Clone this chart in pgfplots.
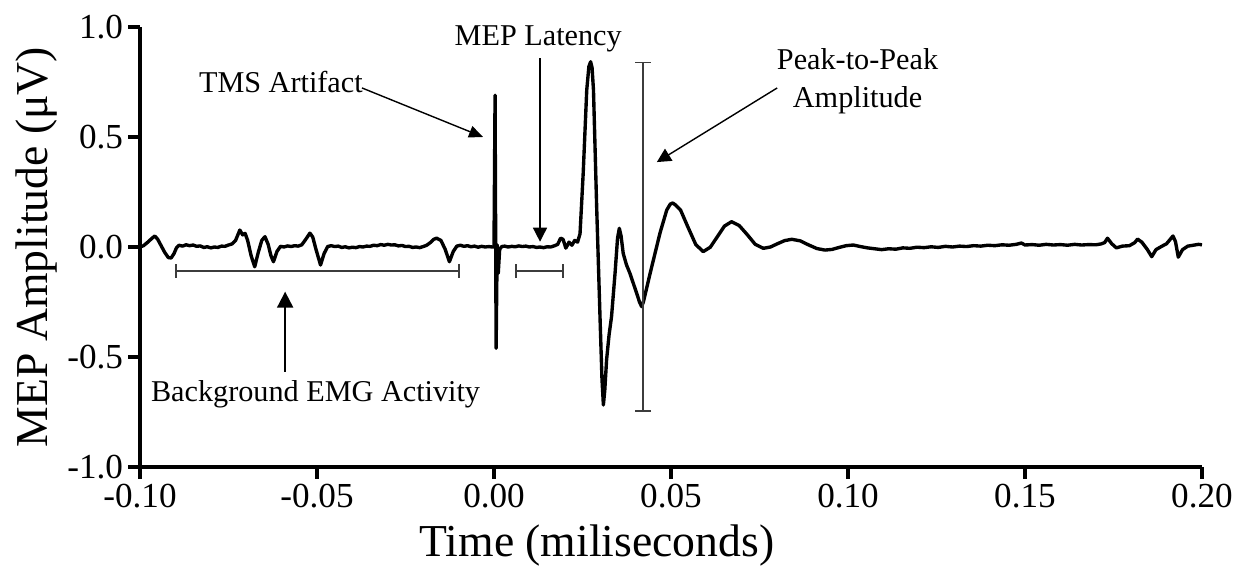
\documentclass[border=0pt]{standalone}
\usepackage{fontspec}
\setmainfont{Liberation Serif}
\usepackage{pgfplots}
\pgfplotsset{compat=1.18}
\usetikzlibrary{arrows.meta}

\newcommand{\annot}{\fontsize{21.5}{26}\selectfont}
\definecolor{barGray}{RGB}{60,60,60}

\begin{document}
\begin{tikzpicture}
\begin{axis}[
  scale only axis, width=265.5mm, height=110mm,
  xmin=-0.1, xmax=0.2, ymin=-1, ymax=1,
  axis lines*=left,
  axis line style={line width=2.5pt},
  xtick={-0.1,-0.05,0,0.05,0.1,0.15,0.2},
  xticklabels={-0.10,-0.05,0.00,0.05,0.10,0.15,0.20},
  ytick={-1,-0.5,0,0.5,1},
  yticklabels={-1.0,-0.5,0.0,0.5,1.0},
  tick align=outside, major tick length=3mm,
  tick style={line width=2.5pt,black},
  ticklabel style={font=\fontsize{25}{30}\selectfont},
  xlabel={Time (miliseconds)}, ylabel={MEP Amplitude (μV)},
  label style={font=\fontsize{32.5}{38}\selectfont},
  xlabel style={at={(axis description cs:0.4303,-0.1795)}, anchor=center},
  clip=false,
]
% page frame, so the picture keeps the reference proportions
\path (axis cs:-0.13955,1.12273) rectangle (axis cs:0.21102,-1.49091);

\addplot[black, line width=2.4pt, line join=round] coordinates {
(-0.1000,0.000) (-0.0990,0.006) (-0.0978,0.022) (-0.0966,0.040) (-0.0958,0.050) (-0.0950,0.035) (-0.0940,0.005) (-0.0930,-0.025) (-0.0920,-0.048) (-0.0912,-0.050) (-0.0904,-0.030) (-0.0897,-0.004) (-0.0890,0.008) (-0.0880,0.004)
(-0.0870,0.010) (-0.0860,0.006) (-0.0850,0.009) (-0.0840,0.003) (-0.0830,0.005) (-0.0820,-0.002) (-0.0810,0.001) (-0.0800,-0.004) (-0.0790,0.000) (-0.0780,-0.002) (-0.0770,0.004) (-0.0760,0.003) (-0.0750,0.009) (-0.0740,0.014) (-0.0730,0.030) (-0.0718,0.077) (-0.0710,0.055) (-0.0703,0.062) (-0.0696,0.030) (-0.0686,-0.040) (-0.0676,-0.090) (-0.0666,-0.025) (-0.0656,0.030) (-0.0647,0.047) (-0.0638,0.012) (-0.0630,-0.040) (-0.0623,-0.067) (-0.0613,-0.020) (-0.0603,0.003) (-0.0593,0.000) (-0.0583,0.005) (-0.0573,0.002) (-0.0563,0.006) (-0.0553,0.004) (-0.0543,0.010) (-0.0533,0.032) (-0.0520,0.063) (-0.0512,0.045) (-0.0503,-0.010) (-0.0490,-0.082) (-0.0480,-0.030) (-0.0470,0.002) (-0.0460,0.006)
(-0.0450,0.002) (-0.0440,0.004) (-0.0430,-0.002) (-0.0420,0.001) (-0.0410,-0.004) (-0.0400,-0.001) (-0.0390,-0.003) (-0.0380,0.002) (-0.0370,0.000) (-0.0360,0.004) (-0.0350,0.003) (-0.0340,0.008) (-0.0330,0.006) (-0.0320,0.011) (-0.0310,0.008) (-0.0300,0.012) (-0.0290,0.009) (-0.0280,0.010) (-0.0270,0.005) (-0.0260,0.007) (-0.0250,0.002) (-0.0240,0.003) (-0.0230,-0.002) (-0.0220,0.000) (-0.0210,-0.003) (-0.0200,0.002) (-0.0190,0.008) (-0.0180,0.020) (-0.0170,0.035) (-0.0162,0.040) (-0.0150,0.030) (-0.0138,-0.010) (-0.0126,-0.067) (-0.0115,-0.020) (-0.0105,0.004) (-0.0095,0.008) (-0.0085,0.003) (-0.0075,0.006) (-0.0065,0.001) (-0.0055,0.004) (-0.0045,-0.001) (-0.0035,0.003) (-0.0025,0.000) (-0.0015,0.002) (-0.0005,0.000)
(0.0000,0.000) (0.0003,0.690) (0.0006,-0.460) (0.0009,0.010) (0.0012,-0.120) (0.0016,-0.010) (0.0022,0.002)
(0.0030,0.004) (0.0040,0.000) (0.0050,0.003) (0.0060,0.001) (0.0070,0.005) (0.0080,0.002) (0.0090,0.004) (0.0100,0.000) (0.0110,0.002) (0.0120,-0.002) (0.0130,0.000) (0.0140,-0.003) (0.0150,0.001) (0.0160,0.000) (0.0170,0.005) (0.0180,0.012) (0.0188,0.040) (0.0195,0.035) (0.0203,-0.005) (0.0212,0.022) (0.0220,0.008) (0.0228,0.030) (0.0236,0.022)
(0.0243,0.060) (0.0252,0.336) (0.0262,0.714) (0.0268,0.820) (0.0273,0.842) (0.0277,0.815) (0.0281,0.714) (0.0290,0.183) (0.0300,-0.346) (0.0305,-0.600) (0.0309,-0.718) (0.0313,-0.650) (0.0318,-0.514) (0.0325,-0.400) (0.0332,-0.317) (0.0342,-0.118) (0.0349,0.040) (0.0354,0.085) (0.0359,0.050) (0.0365,-0.029) (0.0374,-0.080) (0.0384,-0.120) (0.0403,-0.210) (0.0411,-0.250) (0.0417,-0.271) (0.0422,-0.250) (0.0441,-0.120) (0.0469,0.064) (0.0488,0.168) (0.0498,0.195) (0.0505,0.200) (0.0512,0.192)
(0.0527,0.168) (0.0548,0.090) (0.0570,0.011) (0.0591,-0.021) (0.0611,-0.001) (0.0631,0.047) (0.0651,0.095) (0.0671,0.115) (0.0693,0.097) (0.0716,0.055) (0.0738,0.012) (0.0761,-0.006) (0.0781,0.000) (0.0801,0.015) (0.0821,0.029) (0.0841,0.035) (0.0865,0.028) (0.0888,0.010) (0.0912,-0.007) (0.0935,-0.014) (0.0955,-0.011) (0.0975,-0.002) (0.0995,0.006) (0.1015,0.009)
(0.1035,0.002) (0.1055,-0.004) (0.1075,-0.008) (0.1095,-0.012) (0.1115,-0.008) (0.1135,-0.010) (0.1155,-0.004) (0.1175,-0.006) (0.1195,-0.001) (0.1215,-0.003) (0.1235,0.001) (0.1255,-0.002) (0.1275,0.003) (0.1295,0.000) (0.1315,0.004) (0.1335,0.002) (0.1355,0.006) (0.1375,0.004) (0.1395,0.008) (0.1415,0.006) (0.1435,0.010) (0.1455,0.008) (0.1475,0.012) (0.1490,0.018) (0.1500,0.009) (0.1520,0.011) (0.1540,0.008) (0.1560,0.012) (0.1580,0.009) (0.1600,0.011) (0.1620,0.008) (0.1640,0.012) (0.1660,0.009) (0.1680,0.011) (0.1700,0.010)
(0.1715,0.014) (0.1725,0.020) (0.1733,0.040) (0.1745,0.015) (0.1758,-0.004) (0.1775,0.004) (0.1795,0.006) (0.1810,0.020) (0.1818,0.036) (0.1830,0.022) (0.1845,-0.010) (0.1858,-0.044) (0.1870,-0.012) (0.1885,0.002) (0.1900,0.015) (0.1918,0.050) (0.1925,0.025) (0.1933,-0.046) (0.1945,-0.012) (0.1960,0.004) (0.1975,0.008) (0.1990,0.012) (0.2000,0.010)
};

% brackets
\draw[barGray, line width=1.2pt, {Bar[width=3.5mm]}-{Bar[width=3.5mm]}] (axis cs:-0.0901,-0.109) -- (axis cs:-0.0096,-0.109);
\draw[barGray, line width=1.2pt, {Bar[width=3.5mm]}-{Bar[width=3.5mm]}] (axis cs:0.0059,-0.110) -- (axis cs:0.0198,-0.110);
\draw[barGray, line width=1.2pt, {Bar[width=4mm]}-{Bar[width=4mm]}] (axis cs:0.0421,-0.749) -- (axis cs:0.0421,0.842);

% arrows and text
\draw[line width=1.4pt, -{Triangle[length=4mm,width=4mm]}] (axis cs:-0.059,-0.567) -- (axis cs:-0.059,-0.203);
\node[anchor=base, font=\annot] at (axis cs:-0.0504,-0.703) {Background EMG Activity};
\draw[line width=1pt, -{Triangle[length=3.5mm,width=3mm]}] (axis cs:-0.0373,0.723) -- (axis cs:-0.0031,0.500);
\node[anchor=base, font=\annot] at (axis cs:-0.0602,0.700) {TMS Artifact};
\draw[line width=1pt, -{Triangle[length=3.5mm,width=3.5mm]}] (axis cs:0.013,0.859) -- (axis cs:0.013,0.024);
\node[anchor=base, font=\annot] at (axis cs:0.0125,0.918) {MEP Latency};
\draw[line width=1pt, -{Triangle[length=3.5mm,width=3.5mm]}] (axis cs:0.080,0.723) -- (axis cs:0.046,0.386);
\node[anchor=base, font=\annot] at (axis cs:0.1027,0.805) {Peak-to-Peak};
\node[anchor=base, font=\annot] at (axis cs:0.1027,0.632) {Amplitude};
\end{axis}
\end{tikzpicture}
\end{document}
